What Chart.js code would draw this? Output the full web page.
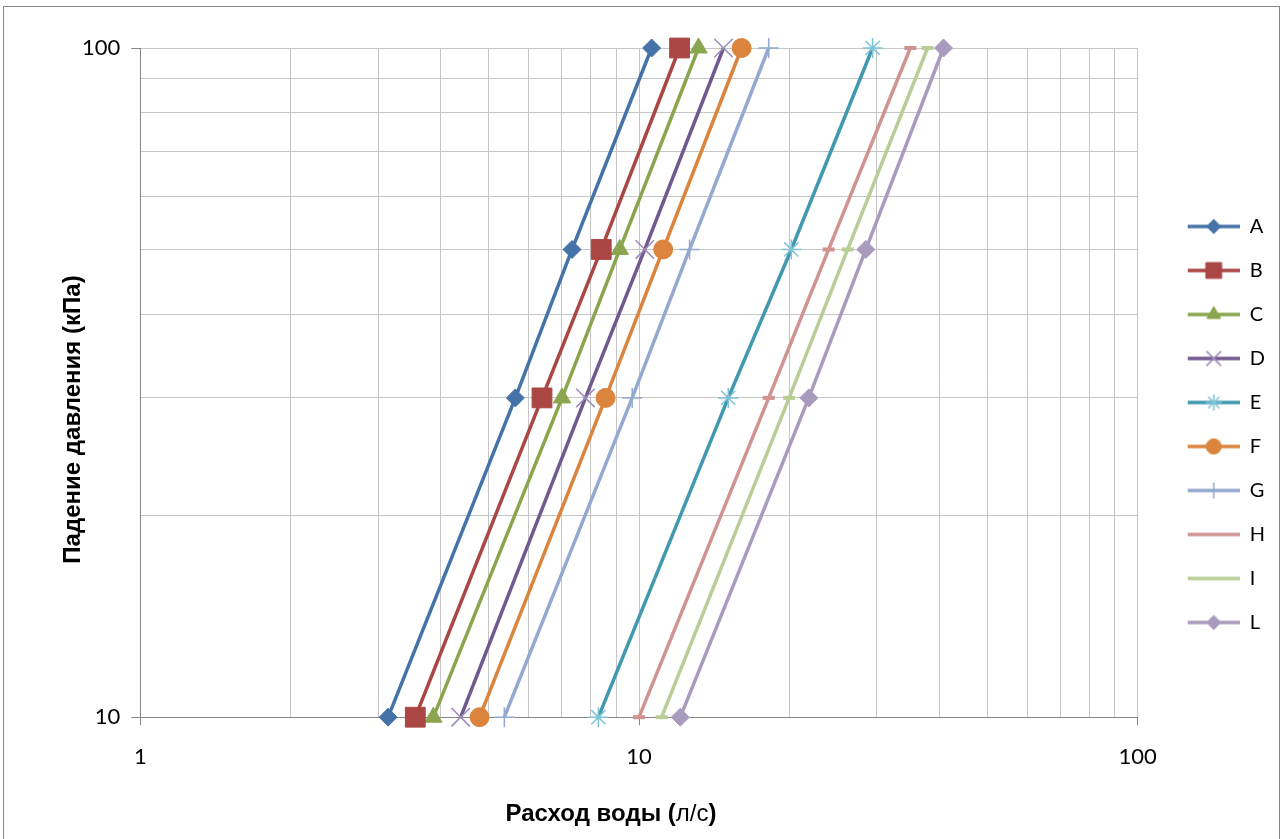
<!DOCTYPE html>
<html>
<head>
<meta charset="utf-8">
<script src="https://cdn.jsdelivr.net/npm/chart.js@4/dist/chart.umd.min.js"></script>
<style>
  html, body { margin: 0; padding: 0; background: #fff; overflow: hidden; }
  #wrap { position: relative; width: 1283px; height: 839px; }
  #frame { position: absolute; left: 3px; top: 6px; width: 1277px; height: 900px; border: 1px solid #868686; box-sizing: border-box; }
  #myChart { position: absolute; left: 0; top: 0; }
</style>
</head>
<body>
<div id="wrap">
  <div id="frame"></div>
  <canvas id="myChart" width="1283" height="839"></canvas>
</div>
<script>
// падение давления (кПа) - общие точки для всех серий
const pressure = [10, 30, 50, 100];

// расход воды (л/с) по сериям
const flowA = [3.14, 5.65, 7.34, 10.6];
const flowB = [3.56, 6.39, 8.40, 12.06];
const flowC = [3.87, 7.01, 9.15, 13.16];
const flowD = [4.39, 7.81, 10.27, 14.77];
const flowE = [8.29, 15.1, 20.2, 29.4];
const flowF = [4.79, 8.57, 11.18, 16.06];
const flowG = [5.37, 9.69, 12.63, 18.2];
const flowH = [10.0, 18.2, 24.0, 35.0];
const flowI = [11.1, 20.0, 26.2, 37.9];
const flowL = [12.1, 21.9, 28.5, 40.8];

const seriesNames = ['A', 'B', 'C', 'D', 'E', 'F', 'G', 'H', 'I', 'L'];
const seriesFlows = [flowA, flowB, flowC, flowD, flowE, flowF, flowG, flowH, flowI, flowL];

// сетка и подписи осей
const xGrid = [1, 2, 3, 4, 5, 6, 7, 8, 9, 10, 20, 30, 40, 50, 60, 70, 80, 90, 100];
const yGrid = [10, 20, 30, 40, 50, 60, 70, 80, 90, 100];
const xLabels = [1, 10, 100];
const yLabels = [10, 100];

const yTitle = 'Падение давления (кПа)';
const xTitleParts = [['Расход воды (', 'bold'], ['л/с', 'normal'], [')', 'bold']];

// стиль серий (как в Excel)
const styles = [
  { color: '#4572A7', mark: '#4572A7', point: 'rectRot', r: 9, bw: 1 },
  { color: '#AA4643', mark: '#AA4643', point: 'rect', r: 14, bw: 1 },
  { color: '#89A54E', mark: '#89A54E', point: 'triangle', r: 10, bw: 1 },
  { color: '#71588F', mark: '#9D8CBA', point: 'crossRot', r: 13, bw: 1.5 },
  { color: '#4198AF', mark: '#7EC3D6', point: 'star', r: 10, bw: 1.5 },
  { color: '#DB843D', mark: '#DB843D', point: 'circle', r: 9.5, bw: 1 },
  { color: '#93A9CF', mark: '#93A9CF', point: 'cross', r: 10, bw: 1.5 },
  { color: '#D19392', mark: '#D19392', point: 'line', r: 6, bw: 4 },
  { color: '#B9CD96', mark: '#B9CD96', point: 'line', r: 6, bw: 4 },
  { color: '#A99BBD', mark: '#A99BBD', point: 'rectRot', r: 9, bw: 1 }
];

const LEG_W = 78;
const tickFont = { family: 'Lato, "Liberation Sans", sans-serif', size: 22 };

function legendIcon(s) {
  const c = document.createElement('canvas');
  c.width = LEG_W; c.height = 22;
  const g = c.getContext('2d');
  g.strokeStyle = s.color;
  g.lineWidth = 3.5;
  g.beginPath();
  g.moveTo(LEG_W - 52, 11);
  g.lineTo(LEG_W, 11);
  g.stroke();
  if (s.point !== 'line') {
    g.fillStyle = s.mark;
    g.strokeStyle = s.mark;
    g.lineWidth = s.bw;
    Chart.helpers.drawPoint(g, { pointStyle: s.point, radius: s.r * 0.8, borderWidth: s.bw, rotation: 0 }, LEG_W - 26, 11);
  }
  return c;
}

const datasets = seriesNames.map((name, i) => {
  const s = styles[i];
  return {
    label: name,
    data: pressure.map((p, k) => ({ x: seriesFlows[i][k], y: p })),
    borderColor: s.color,
    backgroundColor: s.mark,
    borderWidth: 3.5,
    pointStyle: s.point,
    pointRadius: s.r,
    pointHoverRadius: s.r,
    pointBackgroundColor: s.mark,
    pointBorderColor: s.mark,
    pointBorderWidth: s.bw,
    tension: 0,
    clip: false,
    legendIcon: legendIcon(s)
  };
});

const tickColor = (list) => (ctx) => (ctx.tick && list.includes(ctx.tick.value)) ? '#868686' : 'rgba(0,0,0,0)';

// подписи осей (x - со смешанным начертанием, как в оригинале)
const axisTitles = {
  id: 'axisTitles',
  afterDraw(chart) {
    const ctx = chart.ctx;
    const fam = '"Liberation Sans", Arial, sans-serif';
    ctx.save();
    ctx.fillStyle = '#000';
    ctx.textBaseline = 'middle';
    ctx.textAlign = 'center';
    ctx.font = 'bold 24px ' + fam;
    ctx.translate(73, chart.height / 2);
    ctx.rotate(-Math.PI / 2);
    ctx.fillText(yTitle, 0, 0);
    ctx.restore();

    ctx.save();
    ctx.fillStyle = '#000';
    ctx.textBaseline = 'middle';
    ctx.textAlign = 'left';
    let total = 0;
    xTitleParts.forEach(([t, w]) => { ctx.font = w + ' 24px ' + fam; total += ctx.measureText(t).width; });
    let x = 611 - total / 2;
    xTitleParts.forEach(([t, w]) => {
      ctx.font = w + ' 24px ' + fam;
      ctx.fillText(t, x, 814);
      x += ctx.measureText(t).width;
    });
    ctx.restore();
  }
};

const config = {
  type: 'line',
  data: { datasets },
  plugins: [axisTitles],
  options: {
    responsive: false,
    animation: false,
    layout: { padding: { left: 71, right: 8, top: 48, bottom: 38 } },
    plugins: {
      title: { display: false },
      tooltip: { enabled: false },
      legend: {
        position: 'right',
        labels: {
          usePointStyle: true,
          pointStyleWidth: LEG_W,
          padding: 24,
          color: '#000',
          font: { family: 'Lato, "Liberation Sans", sans-serif', size: 20 },
          generateLabels: (chart) => chart.data.datasets.map((ds, i) => ({
            text: ds.label,
            pointStyle: ds.legendIcon,
            fillStyle: ds.borderColor,
            strokeStyle: ds.borderColor,
            lineWidth: 0,
            hidden: false,
            datasetIndex: i
          }))
        }
      }
    },
    scales: {
      x: {
        type: 'logarithmic',
        min: 1,
        max: 100,
        afterBuildTicks: (scale) => { scale.ticks = xGrid.map(v => ({ value: v, major: xLabels.includes(v) })); },
        ticks: {
          autoSkip: false,
          maxRotation: 0,
          padding: 19,
          color: '#000',
          font: tickFont,
          callback: (v) => xLabels.includes(v) ? String(v) : ''
        },
        grid: { color: '#C6C6C6', lineWidth: 1, tickLength: 8, tickColor: tickColor(xLabels) },
        border: { color: '#868686', width: 1 },
        title: {
          display: true,
          text: ' ',
          color: 'rgba(0,0,0,0)',
          font: { size: 7 },
          padding: { top: 2, bottom: 1 }
        }
      },
      y: {
        type: 'logarithmic',
        min: 10,
        max: 100,
        afterBuildTicks: (scale) => { scale.ticks = yGrid.map(v => ({ value: v, major: yLabels.includes(v) })); },
        ticks: {
          autoSkip: false,
          padding: 11,
          color: '#000',
          font: tickFont,
          callback: (v) => yLabels.includes(v) ? String(v) : ''
        },
        grid: { color: '#C6C6C6', lineWidth: 1, tickLength: 9, tickColor: tickColor(yLabels) },
        border: { color: '#868686', width: 1 }
      }
    }
  }
};

const myChart = new Chart(document.getElementById('myChart'), config);
</script>
</body>
</html>
